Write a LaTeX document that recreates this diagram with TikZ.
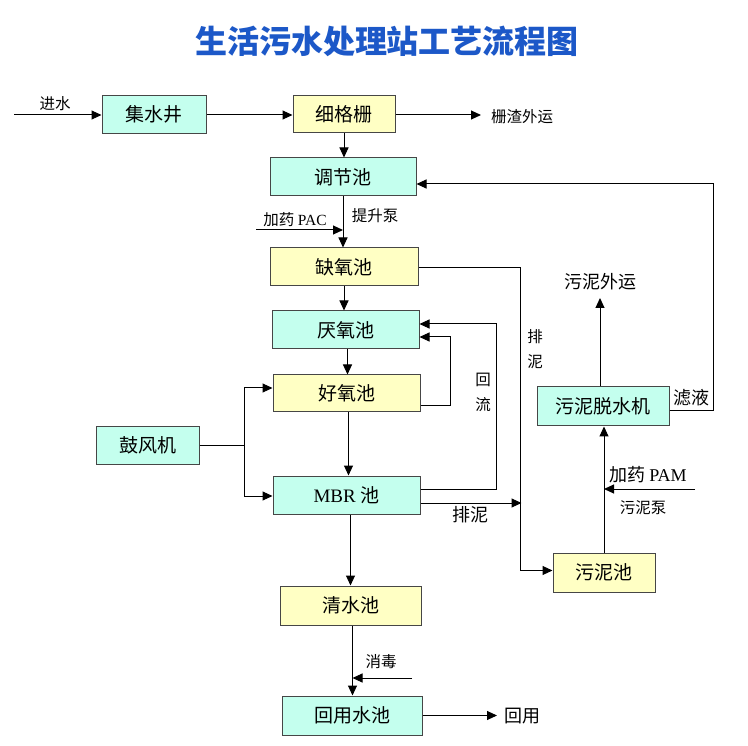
\documentclass[tikz,border=0pt]{standalone}
\usepackage{fontspec}
\setmainfont{Liberation Serif}
\newfontfamily\cjk{Noto Sans CJK SC}
\usetikzlibrary{arrows.meta,calc}
\definecolor{cyanc}{RGB}{196,255,238}
\definecolor{yelc}{RGB}{255,255,196}
\definecolor{boxc}{RGB}{70,70,70}
\definecolor{titlec}{RGB}{28,88,200}
\begin{document}
\begin{tikzpicture}[x=1pt,y=-1pt,
  box/.style={draw=boxc,line width=1pt,inner sep=0pt,font=\cjk\fontsize{19}{19}\selectfont},
  cbox/.style={box,fill=cyanc},
  ybox/.style={box,fill=yelc},
  arr/.style={line width=1pt,-{Triangle[length=10pt,width=9pt]}},
  ln/.style={line width=1pt},
  lbl/.style={inner sep=0pt,font=\cjk\fontsize{15.5}{15.5}\selectfont},
  lblb/.style={inner sep=0pt,font=\cjk\fontsize{18}{18}\selectfont},
  vlbl/.style={inner sep=0pt,align=center,font=\cjk\fontsize{15.5}{25}\selectfont}]
\useasboundingbox[fill=white] (0,0) rectangle (748,746);

\node[inner sep=0pt,text=titlec,font=\cjk\bfseries\fontsize{32}{32}\selectfont] (title) at (387,41) {生活污水处理站工艺流程图};

% boxes
\node[cbox,minimum width=104pt,minimum height=38pt] (jsj) at (154,114.5) {集水井};
\node[ybox,minimum width=102pt,minimum height=37pt] (xgs) at (344,114) {细格栅};
\node[cbox,minimum width=146pt,minimum height=38pt] (tjc) at (343,177) {调节池};
\node[ybox,minimum width=148pt,minimum height=38pt] (qyc) at (344,267) {缺氧池};
\node[cbox,minimum width=147pt,minimum height=38pt] (yyc) at (345.5,330) {厌氧池};
\node[ybox,minimum width=147pt,minimum height=37pt] (hyc) at (346.5,393.5) {好氧池};
\node[cbox,minimum width=103pt,minimum height=37pt] (gfj) at (147.5,445.5) {鼓风机};
\node[cbox,minimum width=147pt,minimum height=38pt] (mbr) at (346.5,495) {\rmfamily MBR {\cjk 池}};
\node[ybox,minimum width=141pt,minimum height=39pt] (qsc) at (350.5,605.5) {清水池};
\node[cbox,minimum width=140pt,minimum height=39pt] (hysc) at (352,715.5) {回用水池};
\node[cbox,minimum width=132pt,minimum height=39pt] (wntsj) at (603,406.5) {污泥脱水机};
\node[ybox,minimum width=102pt,minimum height=39pt] (wnc) at (604,572.5) {污泥池};

% coordinates for free ends
\coordinate (in) at (14,115);
\coordinate (zz) at (481,115);
\coordinate (pac) at (256,230);
\coordinate (bj) at (244,445.5);
\coordinate (xd) at (412,678);
\coordinate (hy) at (497,715.5);
\coordinate (pam) at (695,489);
\coordinate (wy) at (600,298);
\coordinate (lyc) at (713,184);

% main line
\draw[arr] (in) -- (in -| jsj.west);
\draw[arr] (jsj.east |- in) -- (xgs.west |- in);
\draw[arr] (xgs.east |- zz) -- (zz);
\draw[arr] (xgs.south) -- (xgs.south |- tjc.north);
\draw[arr] (tjc.south) -- (tjc.south |- qyc.north);
\draw[arr] (pac) -- (pac -| tjc.south);
\draw[arr] (qyc.south) -- (qyc.south |- yyc.north);
\draw[arr] ($(yyc.south)+(2,0)$) -- ($(yyc.south |- hyc.north)+(2,0)$);
\draw[arr] ($(hyc.south)+(2,0)$) -- ($(hyc.south |- mbr.north)+(2,0)$);
\draw[arr] (qsc.north |- mbr.south) -- (qsc.north);
\draw[arr] ($(qsc.south)+(2,0)$) -- ($(qsc.south |- hysc.north)+(2,0)$);
\draw[arr] (xd) -- ($(xd -| qsc.south)+(2,0)$);
\draw[arr] (hysc.east) -- (hy);

% return loops
\draw[arr] ($(hyc.east)+(0,12)$) -| ($(yyc.east)+(31,7)$) -- ($(yyc.east)+(0,7)$);
\draw[arr] ($(mbr.east)+(0,-6)$) -| ($(yyc.east)+(77,-6)$) -- ($(yyc.east)+(0,-6)$);

% blower
\draw[ln] (gfj.east) -- (bj);
\draw[arr] (bj) |- ($(hyc.west)+(0,-5.5)$);
\draw[arr] (bj) |- ($(mbr.west)+(0,1)$);

% sludge
\draw[arr] ($(qyc.east)+(0,1)$) -| ($(wnc.west)+(-32,-2)$) -- ($(wnc.west)+(0,-2)$);
\draw[arr] ($(mbr.east)+(0,8)$) -- ($(mbr.east)+(101,8)$);
\draw[arr] (wnc.north) -- (wnc.north |- wntsj.south);
\draw[arr] (pam) -- (pam -| wnc.north);
\draw[arr] (wy |- wntsj.north) -- (wy);
\draw[arr] ($(wntsj.east)+(0,4)$) -| (lyc) -- (lyc -| tjc.east);

% labels
\node[lbl] (l1) at (55,104) {进水};
\node[lbl] (l2) at (522,117) {栅渣外运};
\node[lbl] (l3) at (375,216) {提升泵};
\node[lbl] (l4) at (295,220) {加药 {\rmfamily PAC}};
\node[vlbl] (l5) at (535,349) {排\\泥};
\node[vlbl] (l6) at (483,392) {回\\流};
\node[lblb] (l7) at (470,515) {排泥};
\node[lbl] (l8) at (381,662) {消毒};
\node[lblb] (l9) at (522,716) {回用};
\node[lblb] (l10) at (600,282) {污泥外运};
\node[lblb] (l11) at (691,398) {滤液};
\node[lblb] (l12) at (648,475) {加药 {\rmfamily PAM}};
\node[lbl] (l13) at (643,508) {污泥泵};
\end{tikzpicture}
\end{document}
